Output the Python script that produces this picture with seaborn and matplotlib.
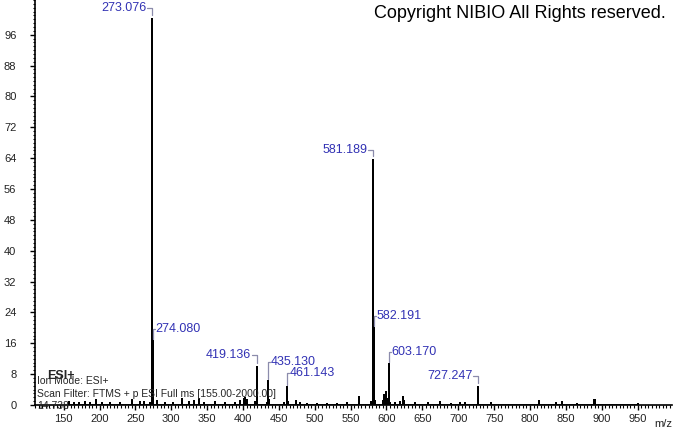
import numpy as np
import pandas as pd
import matplotlib
matplotlib.use("Agg")
import matplotlib.pyplot as plt
from matplotlib.ticker import MultipleLocator
import seaborn as sns

# peaks (m/z, relative abundance %)
peak_mz = [158, 165, 172, 180, 187, 195, 203, 214, 228, 245, 256, 262, 270,
           273.076, 274.080, 275.08, 280, 291, 303, 315, 325, 331, 339, 345,
           361, 375, 389, 396, 401, 403, 406, 417, 419.136, 420.14, 433,
           435.130, 436.13, 457, 461.143, 462.15, 474, 479, 489, 503, 517,
           531, 545, 561.5, 579, 581.189, 582.191, 583.19, 584.2, 595, 597,
           599, 601, 603.170, 604.17, 605.2, 612, 619, 623, 625, 640, 658,
           674, 690, 703, 710, 727.247, 728.25, 745, 812, 836, 844, 865,
           889, 890.5, 950]
peak_int = [0.8, 0.6, 0.5, 0.7, 0.5, 1.2, 0.6, 0.5, 0.6, 1.3, 0.9, 0.7, 0.6,
            100, 16.7, 1.6, 1.0, 0.5, 0.6, 1.5, 0.7, 1.0, 1.6, 0.6,
            0.8, 0.5, 0.6, 1.0, 1.6, 1.8, 1.2, 0.8, 9.8, 1.6, 0.6,
            6.3, 1.2, 0.5, 4.6, 0.8, 1.0, 0.4, 0.3, 0.3, 0.3,
            0.3, 0.6, 2.0, 0.8, 63.5, 20.0, 4.5, 1.0, 1.0, 2.5,
            3.5, 1.5, 10.6, 2.5, 0.6, 0.5, 0.8, 2.0, 1.0, 0.4, 0.6,
            0.8, 0.3, 0.5, 0.6, 4.6, 1.3, 0.5, 1.1, 0.6, 0.7, 0.3,
            1.4, 1.2, 0.2]

# labelled peaks and which side the label sits on
label_mz = [273.076, 274.080, 419.136, 435.130, 461.143, 581.189, 582.191, 603.170, 727.247]
label_side = ["left", "right", "left", "right", "right", "left", "right", "right", "left"]
label_lift = [2.9, 3.0, 3.2, 4.8, 3.7, 2.6, 3.0, 3.1, 2.9]

y_ticks = list(range(0, 97, 8))
x_ticks = list(range(150, 951, 50))

# stick spectrum: each peak goes baseline -> top -> baseline
stick = pd.DataFrame({
    "mz": np.repeat(peak_mz, 3),
    "ab": np.column_stack([np.zeros(len(peak_int)), peak_int,
                           np.zeros(len(peak_int))]).ravel(),
})

sns.set_style("ticks")
plt.rcParams["font.family"] = ["Liberation Sans", "DejaVu Sans"]

fig = plt.figure(figsize=(6.73, 4.33), dpi=100)
ax = fig.add_axes([35 / 673, 28 / 433, 637 / 673, 405 / 433])

sns.lineplot(data=stick, x="mz", y="ab", estimator=None, sort=False,
             color="black", lw=1.3, ax=ax)

ax.set_xlim(110, 998)
ax.set_ylim(0, 105)
ax.set_xticks(x_ticks)
ax.set_yticks(y_ticks)
ax.xaxis.set_minor_locator(MultipleLocator(5))
ax.yaxis.set_minor_locator(MultipleLocator(1))
ax.tick_params(which="major", length=3.4, width=1, colors="black",
               labelsize=8, labelcolor="#222222")
ax.tick_params(which="minor", length=1.8, width=0.8, colors="black")
ax.tick_params(axis="y", which="major", pad=10)
ax.tick_params(axis="x", which="major", pad=3)
ax.set_xlabel("")
ax.set_ylabel("")
sns.despine(ax=ax)
for s in ["left", "bottom"]:
    ax.spines[s].set_linewidth(1.2)
    ax.spines[s].set_color("black")

lookup = dict(zip(peak_mz, peak_int))
txt_col = "#3232b4"
br_col = "#8c8cac"
for mz, side, lift in zip(label_mz, label_side, label_lift):
    h = lookup[mz]
    ly = h + lift
    if side == "left":
        ax.plot([mz - 6.5, mz, mz], [ly, ly, h + 1.0], color=br_col, lw=0.9)
        ax.text(mz - 7.5, ly, f"{mz:.3f}", ha="right", va="center",
                color=txt_col, fontsize=9)
    else:
        ax.plot([mz, mz, mz + 3], [h + 0.5, ly, ly], color=br_col, lw=0.9)
        ax.text(mz + 4, ly, f"{mz:.3f}", ha="left", va="center",
                color=txt_col, fontsize=9)

fig.text(666 / 673, 1 - 14 / 433, "Copyright NIBIO All Rights reserved.",
         ha="right", va="center", fontsize=13, color="black")
fig.text(663 / 673, 1 - 424 / 433, "m/z", ha="center", va="center",
         fontsize=8, color="#222222")

fig.text(47 / 673, 1 - 376 / 433, "ESI+", ha="left", va="center",
         fontsize=9, fontweight="bold")
fig.text(37 / 673, 1 - 381 / 433, "Ion Mode: ESI+", ha="left", va="center",
         fontsize=7.5)
fig.text(37 / 673, 1 - 394 / 433,
         "Scan Filter: FTMS + p ESI Full ms [155.00-2000.00]",
         ha="left", va="center", fontsize=7.5)
fig.text(37 / 673, 1 - 406 / 433, "14.738", ha="left", va="center",
         fontsize=7.5)

fig.savefig("out.png", dpi=100)
